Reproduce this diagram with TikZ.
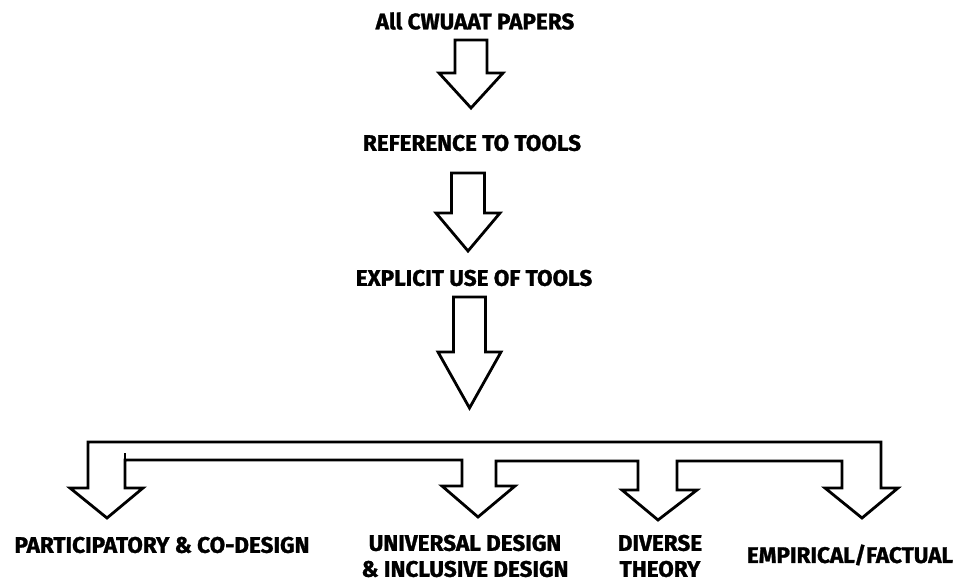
\documentclass[tikz,border=0pt]{standalone}
\usepackage{fontspec}
\setmainfont{Fira Sans}[BoldFeatures={FakeBold=1.2}]
\begin{document}
\begin{tikzpicture}[x=1pt,y=-1pt,
  lbl/.style={font=\fontsize{22.5}{26}\selectfont\bfseries, inner sep=0pt, align=center},
  blk/.style={draw=black, line width=2.8pt, line join=miter, fill=white}]
\useasboundingbox (0,0) rectangle (961,583);

% headings down the centre
\node[lbl] (all) at (475,21) {All CWUAAT PAPERS};
\node[lbl] (ref) at (472,143) {REFERENCE TO TOOLS};
\node[lbl] (exp) at (474,278) {EXPLICIT USE OF TOOLS};

% outcome labels
\node[lbl] (part) at (162,545) {PARTICIPATORY \& CO-DESIGN};
\node[lbl] (univ) at (465,556) {UNIVERSAL DESIGN\\\& INCLUSIVE DESIGN};
\node[lbl] (div) at (660,556) {DIVERSE\\THEORY};
\node[lbl] (emp) at (850,555) {EMPIRICAL/FACTUAL};

% block arrow: centre x, top, head base, tip, shaft half-width, head half-width
\newcommand\blockarrow[6]{%
  \draw[blk] (#1-#5,#2) -- (#1+#5,#2) -- (#1+#5,#3) -- (#1+#6,#3)
    -- (#1,#4) -- (#1-#6,#3) -- (#1-#5,#3) -- cycle;}

\blockarrow{471}{40}{73}{108}{16}{32}
\blockarrow{468}{173}{213}{251}{16.5}{32}
\blockarrow{469.5}{297}{352}{408}{16}{31.5}

% branching arrow to the four outcomes
\draw[blk] (88,442) -- (881,442) -- (881,488) -- (898,488) -- (862,518)
  -- (825,488) -- (842,488) -- (842,461) -- (677,461) -- (677,490)
  -- (697,490) -- (658,520) -- (622,490) -- (638,490) -- (638,461)
  -- (496,461) -- (496,486) -- (515,486) -- (478,517) -- (442,486)
  -- (462,486) -- (462,460) -- (125,460) -- (125,488) -- (143,488)
  -- (107,518) -- (70,488) -- (88,488) -- cycle;
\draw[line width=2.8pt] (125,461) -- (125,453);
\end{tikzpicture}
\end{document}
